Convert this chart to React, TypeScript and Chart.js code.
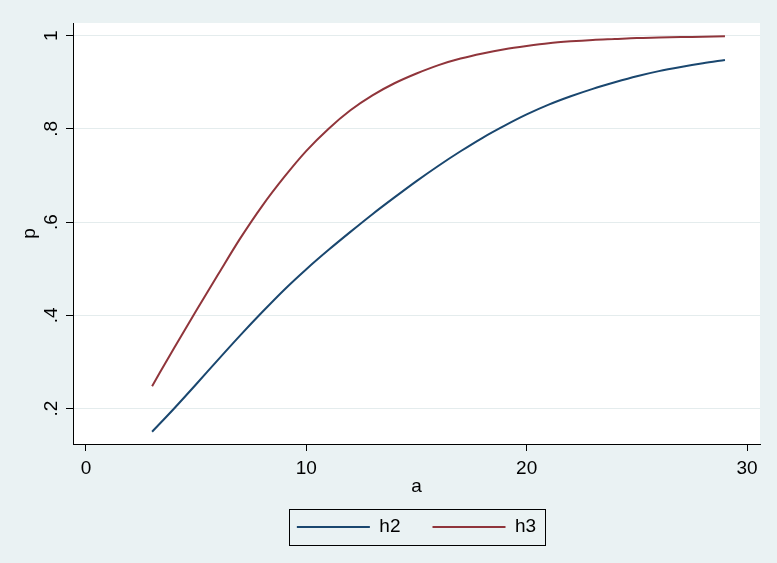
import React, { useEffect, useRef } from "react";
import { Chart, registerables } from "chart.js";

Chart.register(...registerables);

// ---- data ----
const A_VALUES = [3, 4, 5, 6, 7, 8, 9, 10, 11, 12, 13, 14, 15, 16, 17, 18, 19, 20, 21, 22, 23, 24, 25, 26, 27, 28, 29];
const H2_VALUES = [0.150, 0.200, 0.252, 0.305, 0.357, 0.407, 0.455, 0.499, 0.540, 0.579, 0.617, 0.653, 0.688, 0.721, 0.752, 0.781, 0.807, 0.831, 0.852, 0.870, 0.886, 0.900, 0.913, 0.924, 0.933, 0.941, 0.948];
const H3_VALUES = [0.248, 0.330, 0.410, 0.488, 0.565, 0.635, 0.697, 0.753, 0.800, 0.840, 0.872, 0.898, 0.919, 0.937, 0.951, 0.962, 0.971, 0.978, 0.984, 0.988, 0.991, 0.993, 0.995, 0.996, 0.997, 0.998, 0.999];
const SERIES_NAMES = ["h2", "h3"];
const X_TICKS = [0, 10, 20, 30];
const Y_TICKS = [0.2, 0.4, 0.6, 0.8, 1];
const Y_TICK_LABELS = [".2", ".4", ".6", ".8", "1"];
const X_TITLE = "a";
const Y_TITLE = "p";

const FONT_FAMILY = "'Liberation Sans', Arial, sans-serif";
const BG = "#eaf2f3";
const NAVY = "#1a476f";
const MAROON = "#90353b";

const plotBackground = {
  id: "plotBackground",
  beforeDraw(chart: any) {
    const { ctx, chartArea } = chart;
    ctx.save();
    ctx.fillStyle = "#ffffff";
    ctx.fillRect(chartArea.left, chartArea.top, chartArea.right - chartArea.left, chartArea.bottom - chartArea.top);
    ctx.restore();
  },
};

const legendFrame = {
  id: "legendFrame",
  afterDraw(chart: any) {
    const lg = chart.legend;
    if (!lg || !lg.legendHitBoxes || !lg.legendHitBoxes.length) return;
    const boxes = lg.legendHitBoxes;
    const first = boxes[0];
    const last = boxes[boxes.length - 1];
    const left = Math.round(first.left - 8) + 0.5;
    const right = Math.round(last.left + last.width + 9) + 0.5;
    const top = Math.round(first.top - 8.5) + 0.5;
    const bottom = Math.round(first.top + first.height + 8.5) + 0.5;
    const { ctx } = chart;
    ctx.save();
    ctx.strokeStyle = "#000000";
    ctx.lineWidth = 1;
    ctx.strokeRect(left, top, right - left, bottom - top);
    ctx.restore();
  },
};

export default function App() {
  const canvasRef = useRef<HTMLCanvasElement | null>(null);

  useEffect(() => {
    const canvas = canvasRef.current;
    if (!canvas) return;
    const font = { family: FONT_FAMILY, size: 19 };
    const chart = new Chart(canvas, {
      type: "line",
      data: {
        datasets: [
          {
            label: SERIES_NAMES[0],
            data: A_VALUES.map((a, i) => ({ x: a, y: H2_VALUES[i] })),
            borderColor: NAVY,
            backgroundColor: NAVY,
            borderWidth: 2,
            pointRadius: 0,
            cubicInterpolationMode: "monotone",
            fill: false,
          },
          {
            label: SERIES_NAMES[1],
            data: A_VALUES.map((a, i) => ({ x: a, y: H3_VALUES[i] })),
            borderColor: MAROON,
            backgroundColor: MAROON,
            borderWidth: 2,
            pointRadius: 0,
            cubicInterpolationMode: "monotone",
            fill: false,
          },
        ],
      },
      options: {
        responsive: false,
        animation: false,
        events: [],
        layout: { padding: { top: 23, right: 17, bottom: 16.5, left: 0 } },
        scales: {
          x: {
            type: "linear",
            min: -0.59,
            max: 30.59,
            afterBuildTicks: (scale: any) => {
              scale.ticks = X_TICKS.map((v) => ({ value: v }));
            },
            afterFit: (scale: any) => {
              scale.height = 41.5;
            },
            ticks: {
              color: "#000000",
              font,
              padding: 6,
              maxRotation: 0,
              autoSkip: false,
              callback: (v: any) => String(v),
            },
            grid: {
              drawOnChartArea: false,
              drawTicks: true,
              tickLength: 7,
              tickColor: "#000000",
              tickWidth: 1,
            },
            border: { display: true, color: "#000000", width: 1 },
            title: {
              display: true,
              text: X_TITLE,
              color: "#000000",
              font,
              padding: { top: 0, bottom: -12.4 },
            },
          },
          y: {
            type: "linear",
            min: 0.1238,
            max: 1.0273,
            afterBuildTicks: (scale: any) => {
              scale.ticks = Y_TICKS.map((v) => ({ value: v }));
            },
            afterFit: (scale: any) => {
              scale.width = 73;
            },
            ticks: {
              color: "#000000",
              font,
              padding: 6,
              minRotation: 90,
              maxRotation: 90,
              crossAlign: "center",
              autoSkip: false,
              callback: (v: any) => {
                const idx = Y_TICKS.findIndex((t) => Math.abs(t - Number(v)) < 1e-9);
                return idx >= 0 ? Y_TICK_LABELS[idx] : "";
              },
            },
            grid: {
              color: "#e4eced",
              lineWidth: 1,
              drawTicks: true,
              tickLength: 7,
              tickColor: "#000000",
              tickWidth: 1,
            },
            border: { display: true, color: "#000000", width: 1 },
            title: {
              display: true,
              text: Y_TITLE,
              color: "#000000",
              font,
              padding: { top: 18.7, bottom: 0 },
            },
          },
        },
        plugins: {
          legend: {
            display: true,
            position: "bottom",
            fullSize: false,
            labels: {
              boxWidth: 73,
              boxHeight: 2,
              padding: 32,
              color: "#000000",
              font,
              generateLabels: (ch: any) => {
                const items = Chart.defaults.plugins.legend.labels.generateLabels(ch);
                return items.map((it: any, i: number) => ({
                  ...it,
                  fillStyle: i === 0 ? NAVY : MAROON,
                  strokeStyle: i === 0 ? NAVY : MAROON,
                  lineWidth: 0,
                }));
              },
            },
          },
          tooltip: { enabled: false },
          title: { display: false },
        },
      } as any,
      plugins: [plotBackground, legendFrame],
    });
    return () => chart.destroy();
  }, []);

  return (
    <div
      style={{
        position: "fixed",
        left: 0,
        top: 0,
        width: 777,
        height: 563,
        background: BG,
      }}
    >
      <canvas ref={canvasRef} width={777} height={563} style={{ display: "block" }} />
    </div>
  );
}
